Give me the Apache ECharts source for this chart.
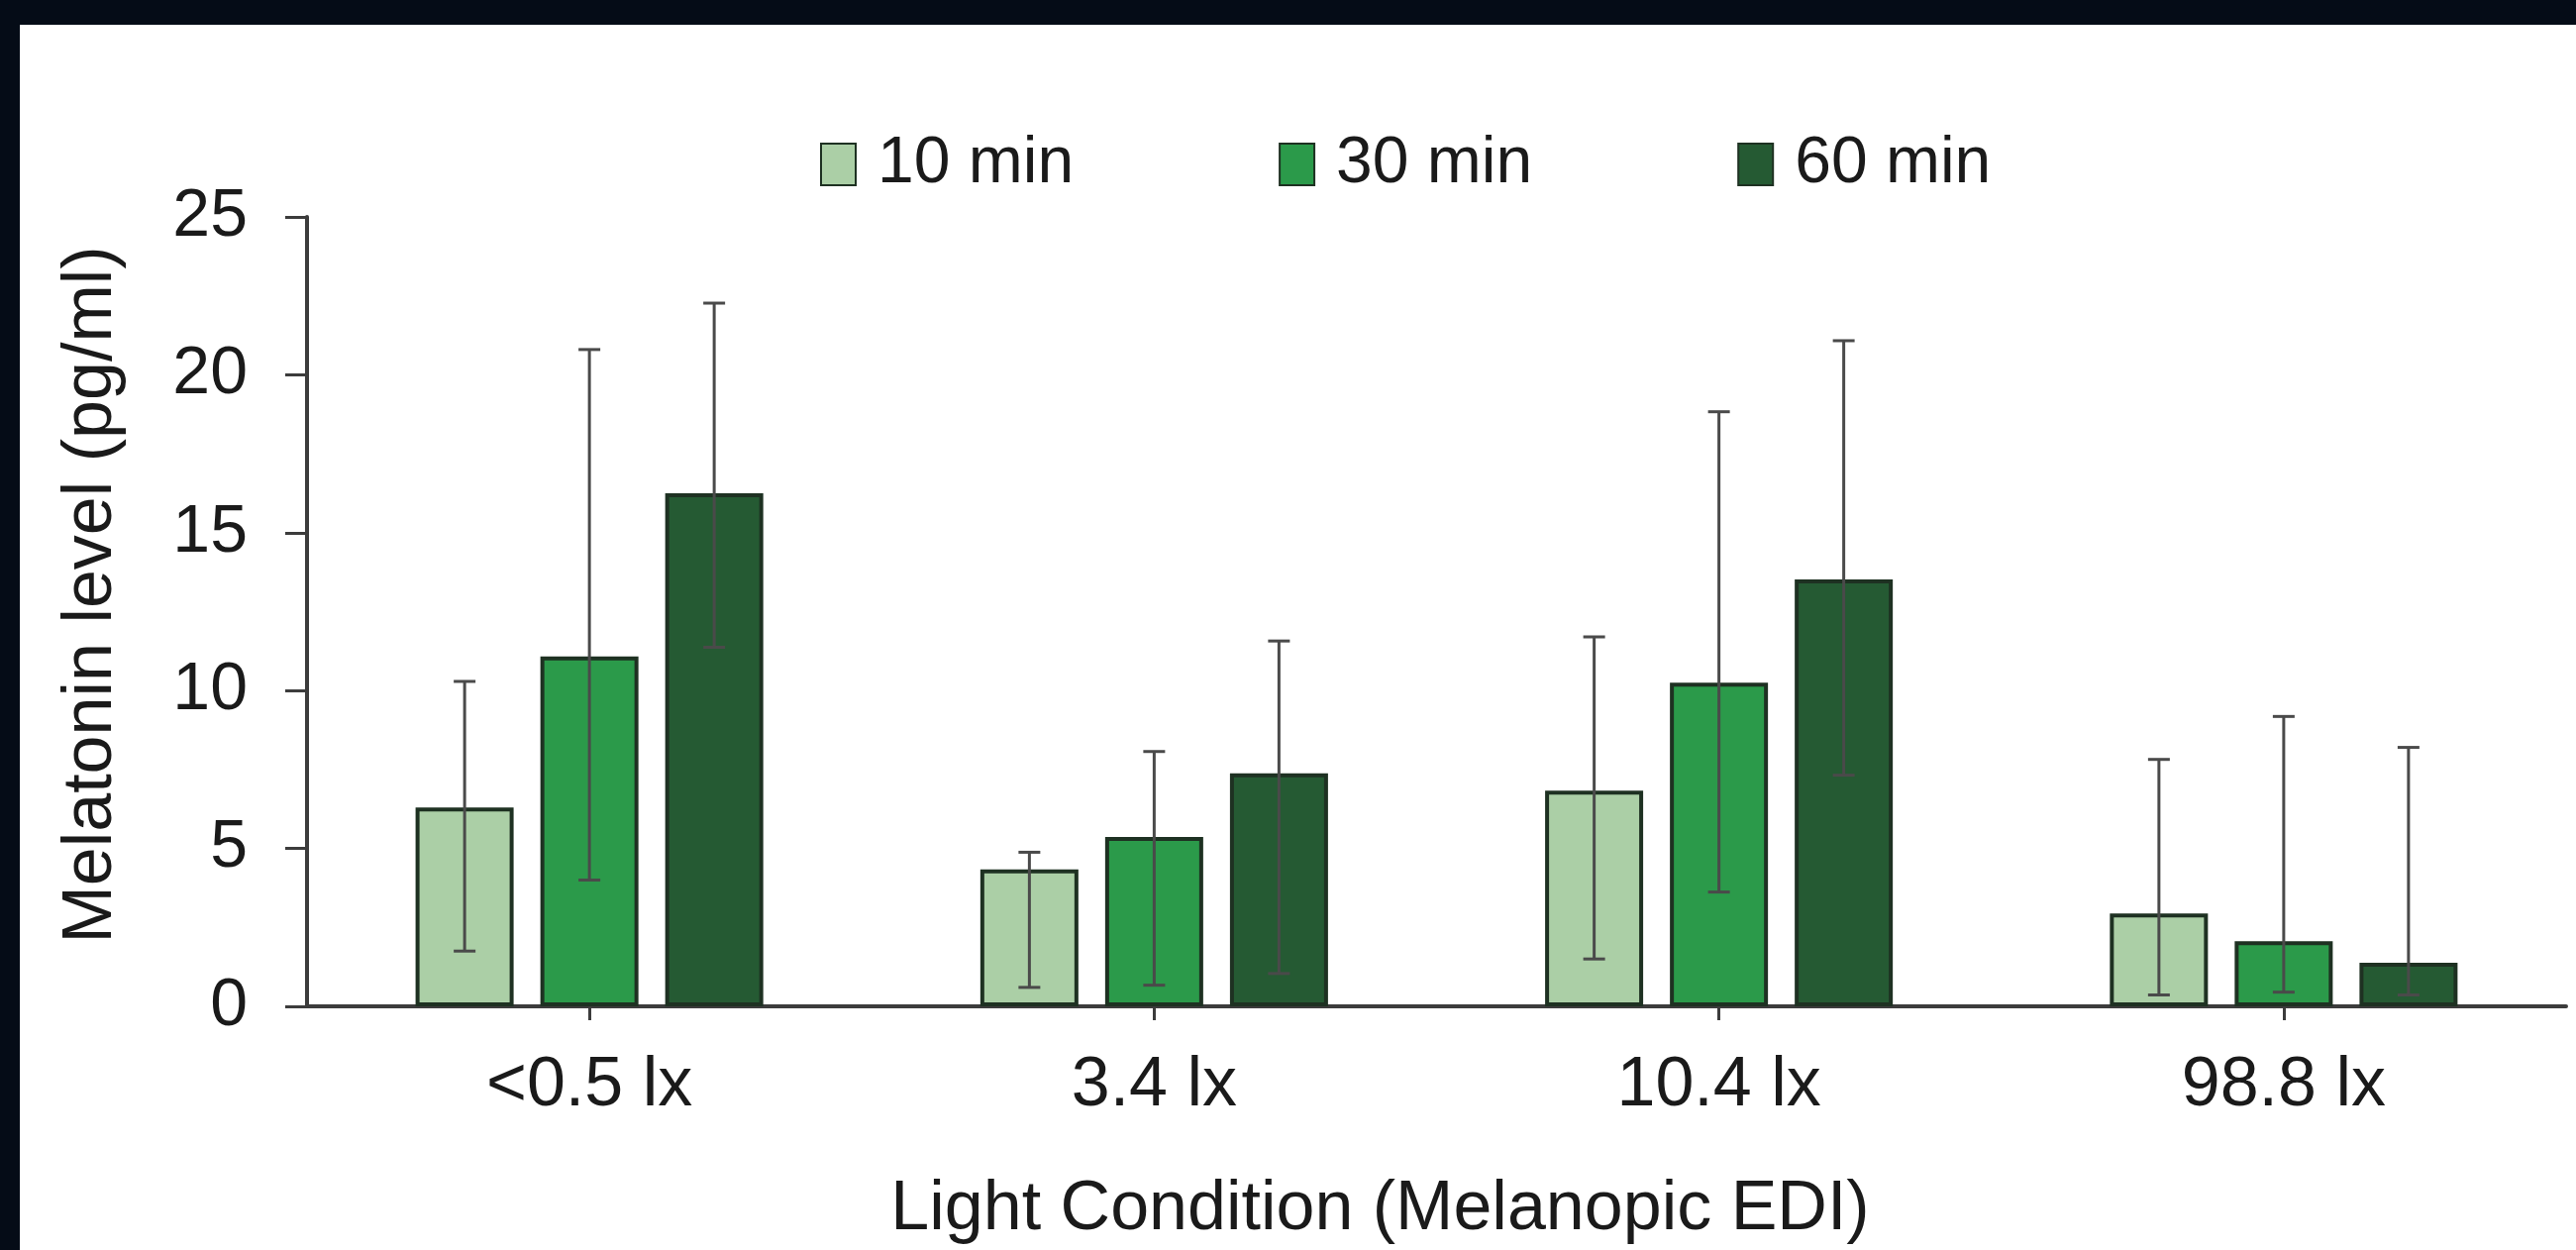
<!DOCTYPE html>
<html>
<head>
<meta charset="utf-8">
<script src="https://cdn.jsdelivr.net/npm/echarts@6/dist/echarts.min.js"></script>
<style>
  html, body { margin: 0; padding: 0; background: #050c17; width: 2601px; height: 1262px; overflow: hidden; }
  #chart { position: absolute; left: 20px; top: 25px; width: 2581px; height: 1237px; background: #ffffff; }
</style>
</head>
<body>
<div id="chart"></div>
<script>
// ---- data ----
const categories = ['<0.5 lx', '3.4 lx', '10.4 lx', '98.8 lx'];
const seriesNames = ['10 min', '30 min', '60 min'];
const mean10 = [6.3, 4.34, 6.83, 2.94];
const mean30 = [11.08, 5.36, 10.25, 2.06];
const mean60 = [16.25, 7.38, 13.52, 1.38];
const upper10 = [10.29, 4.88, 11.7, 7.82];
const lower10 = [1.75, 0.6, 1.5, 0.36];
const upper30 = [20.8, 8.07, 18.83, 9.18];
const lower30 = [4.0, 0.67, 3.62, 0.45];
const upper60 = [22.27, 11.57, 21.08, 8.2];
const lower60 = [11.37, 1.04, 7.32, 0.36];
const yTicks = [0, 5, 10, 15, 20, 25];

// ---- styling ----
const FONT = "'Liberation Sans', Arial, sans-serif";
const TXT = '#1a1a1a';
const AXIS = '#3c3c3c';
const colors = ['#abcfa6', '#2b9a4a', '#255a33'];
const BORDER = '#1e3122';
const BAR_W = 99;
const GAP_PX = 27;

const means = [mean10, mean30, mean60];
const uppers = [upper10, upper30, upper60];
const lowers = [lower10, lower30, lower60];

const barSeries = seriesNames.map((name, k) => ({
  name: name,
  type: 'bar',
  data: means[k],
  barWidth: BAR_W,
  barGap: (GAP_PX / BAR_W * 100).toFixed(1) + '%',
  itemStyle: { color: colors[k], borderColor: BORDER, borderWidth: 4 },
  emphasis: { disabled: true },
  z: 2
}));

const errSeries = seriesNames.map((name, k) => ({
  name: name + ' error',
  type: 'custom',
  z: 5,
  silent: true,
  data: categories.map((c, i) => [i, lowers[k][i], uppers[k][i], k]),
  renderItem: function (params, api) {
    const ci = api.value(0);
    const lo = api.coord([ci, api.value(1)]);
    const hi = api.coord([ci, api.value(2)]);
    const kk = api.value(3);
    const x = lo[0] + (kk - 1) * (BAR_W + GAP_PX);
    const cap = 11;
    const style = { stroke: '#4a4a4a', lineWidth: 3 };
    return {
      type: 'group',
      children: [
        { type: 'line', shape: { x1: x, y1: hi[1], x2: x, y2: lo[1] }, style: style },
        { type: 'line', shape: { x1: x - cap, y1: hi[1], x2: x + cap, y2: hi[1] }, style: style },
        { type: 'line', shape: { x1: x - cap, y1: lo[1], x2: x + cap, y2: lo[1] }, style: style }
      ]
    };
  }
}));

const chart = echarts.init(document.getElementById('chart'), null, { renderer: 'canvas' });
chart.setOption({
  animation: false,
  backgroundColor: '#ffffff',
  textStyle: { fontFamily: FONT, color: TXT },
  legend: {
    data: seriesNames.map(n => ({ name: n, icon: 'rect' })),
    left: 808,
    top: 108,
    padding: 0,
    itemWidth: 35,
    itemHeight: 42,
    itemGap: 207,
    textStyle: { fontFamily: FONT, fontSize: 66, color: TXT, padding: [0, 0, 0, 17] }
  },
  grid: { left: 290, right: 10, top: 194, bottom: 245, containLabel: false },
  xAxis: {
    type: 'category',
    data: categories,
    name: 'Light Condition (Melanopic EDI)',
    nameLocation: 'middle',
    nameGap: 171,
    nameTextStyle: { fontFamily: FONT, fontSize: 70, color: TXT, padding: [0, 114, 0, 0] },
    axisLine: { show: true, lineStyle: { color: AXIS, width: 4 } },
    axisTick: { show: true, alignWithLabel: true, length: 14, lineStyle: { color: AXIS, width: 3 } },
    axisLabel: { fontFamily: FONT, fontSize: 70, color: TXT, margin: 46 }
  },
  yAxis: {
    type: 'value',
    min: yTicks[0],
    max: yTicks[yTicks.length - 1],
    interval: yTicks[1] - yTicks[0],
    name: 'Melatonin level (pg/ml)',
    nameLocation: 'middle',
    nameGap: 182,
    nameRotate: 90,
    nameTextStyle: { fontFamily: FONT, fontSize: 70, color: TXT, padding: [0, 0, 0, 34] },
    axisLine: { show: true, lineStyle: { color: AXIS, width: 4 } },
    axisTick: { show: true, length: 22, lineStyle: { color: AXIS, width: 3 } },
    splitLine: { show: false },
    axisLabel: { fontFamily: FONT, fontSize: 68, color: TXT, margin: 60 }
  },
  series: barSeries.concat(errSeries)
});
</script>
</body>
</html>
